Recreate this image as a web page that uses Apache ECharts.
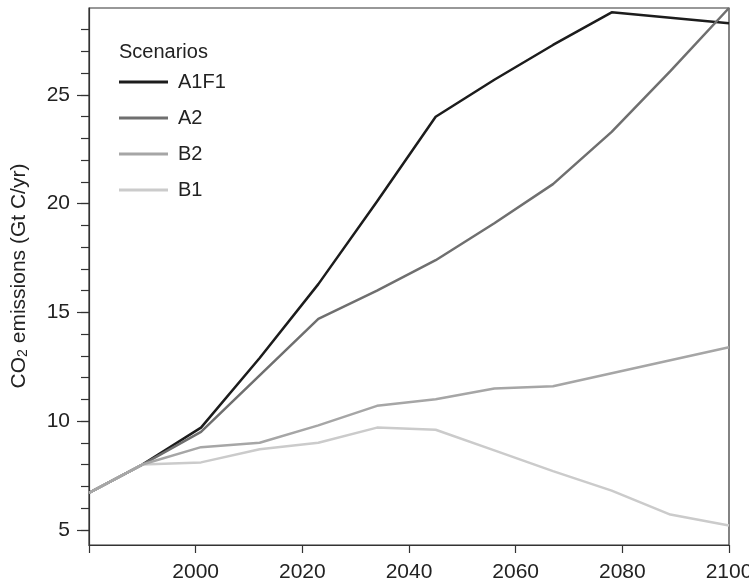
<!DOCTYPE html>
<html>
<head>
<meta charset="utf-8">
<script src="https://cdn.jsdelivr.net/npm/echarts@6/dist/echarts.min.js"></script>
<style>
  html, body { margin: 0; padding: 0; background: #fff; }
  #chart { width: 749px; height: 586px; }
</style>
</head>
<body>
<div id="chart"></div>
<script>
  // 排放情景数据
  var years = [1980, 1990, 2001, 2012, 2023, 2034, 2045, 2056, 2067, 2078, 2089, 2100];
  var a1f1 = [6.7, 8.0, 9.7, 12.9, 16.3, 20.1, 24.0, 25.7, 27.3, 28.8, 28.55, 28.3];
  var a2 = [6.7, 8.0, 9.5, 12.1, 14.7, 16.0, 17.4, 19.1, 20.9, 23.3, 26.1, 29.0];
  var b2 = [6.7, 8.0, 8.8, 9.0, 9.8, 10.7, 11.0, 11.5, 11.6, 12.2, 12.8, 13.4];
  var b1 = [6.7, 8.0, 8.1, 8.7, 9.0, 9.7, 9.6, 8.65, 7.7, 6.8, 5.7, 5.2];
  var yMajor = [5, 10, 15, 20, 25];
  var yMinor = [5, 6, 7, 8, 9, 10, 11, 12, 13, 14, 15, 16, 17, 18, 19, 20, 21, 22, 23, 24, 25, 26, 27, 28];

  var font = "'Liberation Sans', Arial, sans-serif";

  function pairs(vals) {
    return years.map(function (y, i) { return [y, vals[i]]; });
  }

  function line(name, vals, color) {
    return {
      name: name,
      type: 'line',
      data: pairs(vals),
      symbol: 'none',
      color: color,
      lineStyle: {color: color, width: 2.5},
      emphasis: {disabled: true}
    };
  }

  var chart = echarts.init(document.getElementById('chart'));
  var option = {
    animation: false,
    title: {
      text: 'Scenarios',
      left: 119,
      top: 42,
      padding: 0,
      textStyle: {fontFamily: font, fontSize: 20, fontWeight: 'normal', color: '#222'}
    },
    legend: {
      data: ['A1F1', 'A2', 'B2', 'B1'],
      orient: 'vertical',
      left: 119,
      top: 71,
      padding: 0,
      itemGap: 14,
      itemWidth: 49,
      itemHeight: 3,
      icon: 'rect',
      textStyle: {fontFamily: font, fontSize: 20, color: '#222', lineHeight: 22, padding: [0, 0, 0, 5]}
    },
    grid: {
      left: 89, right: 20, top: 8, bottom: 41,
      outerBoundsMode: 'none',
      containLabel: false,
      show: true, borderColor: '#333', borderWidth: 1.2
    },
    xAxis: {
      type: 'value',
      min: 1980, max: 2100, interval: 20,
      axisLine: {lineStyle: {color: '#333', width: 1.2}},
      axisTick: {length: 8, lineStyle: {color: '#333', width: 1.2}},
      splitLine: {show: false},
      axisLabel: {
        fontFamily: font, fontSize: 21, color: '#222', margin: 17,
        formatter: function (v) { return v === 1980 ? '' : String(v); }
      }
    },
    yAxis: [
      {
        type: 'value',
        min: 4.3, max: 29,
        position: 'left',
        axisLine: {show: true, lineStyle: {color: '#333', width: 1.2}},
        axisTick: {show: true, length: 8, customValues: yMinor, lineStyle: {color: '#333', width: 1.2}},
        axisLabel: {show: false},
        splitLine: {show: false}
      },
      {
        type: 'value',
        min: 4.3, max: 29,
        position: 'left',
        axisLine: {show: false},
        axisTick: {show: true, length: 12, customValues: yMajor, lineStyle: {color: '#333', width: 1.2}},
        axisLabel: {customValues: yMajor, fontFamily: font, fontSize: 21, color: '#222', margin: 19},
        splitLine: {show: false}
      }
    ],
    graphic: [
      {
        type: 'text',
        x: 19,
        y: 276,
        rotation: Math.PI / 2,
        style: {
          text: 'CO{sub|2} emissions (Gt C/yr)',
          font: '21px ' + font,
          fill: '#222',
          align: 'center',
          verticalAlign: 'middle',
          rich: {
            sub: {fontSize: 14, fontFamily: font, fill: '#222', verticalAlign: 'bottom', padding: [8, 0, 0, 0]}
          }
        }
      }
    ],
    series: [
      line('A1F1', a1f1, '#1c1c1c'),
      line('A2', a2, '#6f6f6f'),
      line('B1', b1, '#cbcbcb'),
      line('B2', b2, '#a6a6a6')
    ]
  };
  chart.setOption(option);
  window.addEventListener('resize', function () {
    chart.resize();
  });
</script>
</body>
</html>
